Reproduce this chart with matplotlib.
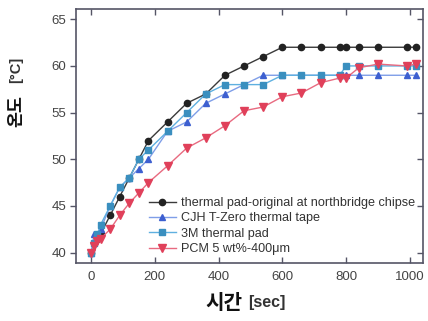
import matplotlib
matplotlib.use('Agg')
import matplotlib.pyplot as plt

# measurement times [sec]
time_s = [0, 10, 20, 30, 60, 90, 120, 150, 180, 240, 300, 360, 420, 480,
          540, 600, 660, 720, 780, 800, 840, 900, 990, 1020]

# temperatures [C]
pad_original = [40, 41, 41.5, 42, 44, 46, 48, 50, 52, 54, 56, 57, 59, 60,
                61, 62, 62, 62, 62, 62, 62, 62, 62, 62]
cjh_tape = [40, 42, 42, 42.5, 45, 47, 48, 49, 50, 53, 54, 56, 57, 58,
            59, 59, 59, 59, 59, 59, 59, 59, 59, 59]
pad_3m = [40, 41, 42, 43, 45, 47, 48, 50, 51, 53, 55, 57, 58, 58,
          58, 59, 59, 59, 59, 60, 60, 60, 60, 60]
pcm = [40, 40.7, 41.2, 41.5, 42.5, 44, 45.3, 46.4, 47.5, 49.3, 51.2, 52.3, 53.6, 55.2,
       55.6, 56.7, 57.1, 58.2, 58.7, 58.7, 59.8, 60.2, 60, 60.2]

labels = ['thermal pad-original at northbridge chipse',
          'CJH T-Zero thermal tape',
          '3M thermal pad',
          'PCM 5 wt%-400\u03bcm']

plt.rcParams['font.family'] = ['Liberation Sans', 'DejaVu Sans']

fig = plt.figure(figsize=(4.28, 3.21), dpi=100)
ax = fig.add_axes([0.177, 0.181, 0.811, 0.791])

# line + marker for each series
ax.plot(time_s, pad_original, color='#3a3a3a', lw=1.0, marker='o', ms=4.5,
        mfc='#222222', mec='#222222', label=labels[0])
ax.plot(time_s, cjh_tape, color='#7f9ee8', lw=1.0, marker='^', ms=4.5,
        mfc='#3d5fd0', mec='#3d5fd0', label=labels[1])
ax.plot(time_s, pad_3m, color='#5fb0e0', lw=1.0, marker='s', ms=4,
        mfc='#3a8fbf', mec='#3a8fbf', label=labels[2])
ax.plot(time_s, pcm, color='#e86a80', lw=1.0, marker='v', ms=5.5,
        mfc='#e0405a', mec='#e0405a', label=labels[3])

ax.set_xlim(-48, 1041)
ax.set_ylim(38.9, 66.1)
ax.set_xticks([0, 200, 400, 600, 800, 1000])
ax.set_yticks([40, 45, 50, 55, 60, 65])

for s in ax.spines.values():
    s.set_color('#555566')
    s.set_linewidth(1.2)

ax.tick_params(axis='x', direction='in', top=True, length=4, width=1,
               colors='#555566', labelcolor='#444444', labelsize=9.5, pad=6)
ax.tick_params(axis='y', direction='out', length=4, width=1,
               colors='#555566', labelcolor='#444444', labelsize=9.5, pad=3)
ax.tick_params(axis='y', which='both', right=True)
# right side ticks point inward
for t in ax.yaxis.get_major_ticks():
    t.tick2line.set_marker(matplotlib.lines.TICKLEFT)

leg = ax.legend(loc='upper left', bbox_to_anchor=(0.211, 0.259), frameon=False,
                fontsize=9.1, handlelength=2.1, handletextpad=0.4,
                labelspacing=0.26, borderpad=0, borderaxespad=0)
for txt in leg.get_texts():
    txt.set_color('#333333')

# axis titles (korean part larger than unit)
fig.text(0.566, 0.059, '시간', fontsize=14.5, fontweight='bold', ha='right', va='center',
         family=['Noto Sans CJK KR', 'DejaVu Sans'], color='#111111')
fig.text(0.58, 0.059, '[sec]', fontsize=11.5, fontweight='bold', ha='left', va='center',
         color='#333333')
fig.text(0.038, 0.604, '온도', fontsize=12.5, fontweight='bold', ha='center', va='bottom',
         rotation=90, family=['Noto Sans CJK KR', 'DejaVu Sans'], color='#111111')
fig.text(0.038, 0.74, '[°C]', fontsize=10.5, fontweight='bold', ha='center', va='bottom',
         rotation=90, color='#333333')

fig.savefig('out.png', dpi=100)
